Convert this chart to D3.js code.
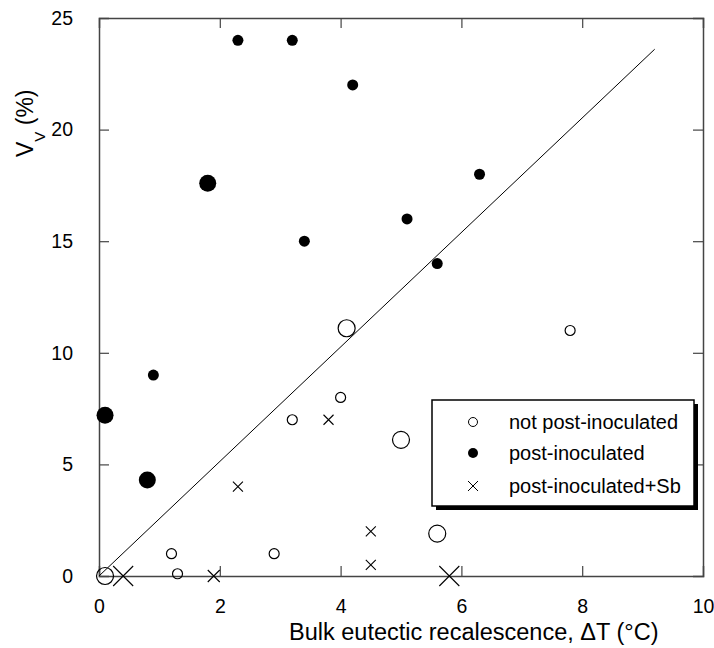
<!DOCTYPE html>
<html>
<head>
<meta charset="utf-8">
<script src="https://cdn.jsdelivr.net/npm/d3@7"></script>
<style>
  html, body { margin: 0; padding: 0; background: #fff; }
  svg { display: block; font-family: "Liberation Sans", Arial, sans-serif; }
</style>
</head>
<body>
<svg id="chart" width="714" height="648"></svg>
<script>
// ---- data ----
const notPostX = [0.1, 1.2, 1.3, 2.9, 3.2, 4.0, 4.1, 5.0, 5.6, 7.8];
const notPostY = [0, 1, 0.1, 1, 7, 8, 11.1, 6.1, 1.9, 11];
const notPostSize = [2, 1, 1, 1, 1, 1, 2, 2, 2, 1];

const postX = [0.1, 0.8, 0.9, 1.8, 2.3, 3.2, 3.4, 4.2, 5.1, 5.6, 6.3];
const postY = [7.2, 4.3, 9, 17.6, 24, 24, 15, 22, 16, 14, 18];
const postSize = [2, 2, 1, 2, 1, 1, 1, 1, 1, 1, 1];

const sbX = [0.4, 1.9, 2.3, 3.8, 4.5, 4.5, 5.8];
const sbY = [0, 0, 4, 7, 2, 0.5, 0];
const sbSize = [2, 1.2, 1, 1, 1, 1, 2];

const fitX = [0, 9.2];
const fitY = [0, 23.6];

const xTicks = [0, 2, 4, 6, 8, 10];
const yTicks = [0, 5, 10, 15, 20, 25];

const legendLabels = ["not post-inoculated", "post-inoculated", "post-inoculated+Sb"];

// ---- layout ----
const svg = d3.select("#chart");
const pLeft = 99, pRight = 703, pTop = 18, pBottom = 576;
const x = d3.scaleLinear().domain([0, 10]).range([pLeft, pRight]);
const y = d3.scaleLinear().domain([0, 25]).range([pBottom, pTop]);
const axisColor = "#444";
const tickLen = 10;

// axes
const gB = svg.append("g").attr("transform", `translate(0,${pBottom})`)
  .call(d3.axisBottom(x).tickValues(xTicks).tickSize(-tickLen).tickPadding(tickLen + 13).tickFormat(d3.format("d")));
const gT = svg.append("g").attr("transform", `translate(0,${pTop})`)
  .call(d3.axisTop(x).tickValues(xTicks).tickSize(-tickLen).tickFormat(""));
const gL = svg.append("g").attr("transform", `translate(${pLeft},0)`)
  .call(d3.axisLeft(y).tickValues(yTicks).tickSize(-tickLen).tickPadding(tickLen + 16).tickFormat(d3.format("d")));
const gR = svg.append("g").attr("transform", `translate(${pRight},0)`)
  .call(d3.axisRight(y).tickValues(yTicks).tickSize(-tickLen).tickFormat(""));

[gB, gT, gL, gR].forEach(g => {
  g.select(".domain").attr("stroke", axisColor).attr("stroke-width", 1.5);
  g.selectAll(".tick line").attr("stroke", axisColor).attr("stroke-width", 1.2);
  g.selectAll(".tick text").attr("fill", "#000").style("font-size", "19.5px")
    .style("font-family", "'Liberation Sans', Arial, sans-serif");
});
// remove ticks at the frame corners
gB.selectAll(".tick").filter(d => d === 0 || d === 10).select("line").remove();
gT.selectAll(".tick").filter(d => d === 0 || d === 10).remove();
gL.selectAll(".tick").filter(d => d === 0 || d === 25).select("line").remove();
gR.selectAll(".tick").filter(d => d === 0 || d === 25).remove();

// axis titles
svg.append("text")
  .attr("x", 289).attr("y", 640)
  .attr("text-anchor", "start")
  .style("font-size", "23.5px")
  .text("Bulk eutectic recalescence, \u0394T (\u00B0C)");

const yl = svg.append("text")
  .attr("transform", "translate(33,157) rotate(-90)")
  .attr("text-anchor", "start")
  .style("font-size", "23px");
yl.append("tspan").text("V");
yl.append("tspan").attr("dy", 12).style("font-size", "15px").text("V");
yl.append("tspan").attr("dy", -12).text(" (%)");

// fit line
const line = d3.line().x(d => x(d[0])).y(d => y(d[1]));
svg.append("path")
  .datum(d3.zip(fitX, fitY))
  .attr("d", line)
  .attr("fill", "none").attr("stroke", "#000").attr("stroke-width", 1);

// markers
const rOpen = s => s === 2 ? 8.5 : 5;
const rFill = s => s === 2 ? 8.5 : 5.5;
const hCross = s => s * 5;

svg.append("g").selectAll("circle")
  .data(d3.zip(notPostX, notPostY, notPostSize))
  .join("circle")
  .attr("cx", d => x(d[0])).attr("cy", d => y(d[1])).attr("r", d => rOpen(d[2]))
  .attr("fill", "none").attr("stroke", "#000").attr("stroke-width", 1.2);

svg.append("g").selectAll("circle")
  .data(d3.zip(postX, postY, postSize))
  .join("circle")
  .attr("cx", d => x(d[0])).attr("cy", d => y(d[1])).attr("r", d => rFill(d[2]))
  .attr("fill", "#000");

svg.append("g").selectAll("path")
  .data(d3.zip(sbX, sbY, sbSize))
  .join("path")
  .attr("d", d => {
    const cx = x(d[0]), cy = y(d[1]), h = hCross(d[2]);
    return `M${cx - h},${cy - h}L${cx + h},${cy + h}M${cx - h},${cy + h}L${cx + h},${cy - h}`;
  })
  .attr("stroke", "#000").attr("stroke-width", 1.1).attr("fill", "none");

// legend
const lg = svg.append("g");
const lx = 432, ly = 400, lw = 262, lh = 106;
lg.append("rect").attr("x", lx + 4).attr("y", ly + 4).attr("width", lw).attr("height", lh).attr("fill", "#000");
lg.append("rect").attr("x", lx).attr("y", ly).attr("width", lw).attr("height", lh)
  .attr("fill", "#fff").attr("stroke", "#000").attr("stroke-width", 1.5);
const rowY = [422, 453, 486];
const mx = 473;
lg.append("circle").attr("cx", mx).attr("cy", rowY[0]).attr("r", 4.5)
  .attr("fill", "none").attr("stroke", "#000").attr("stroke-width", 1);
lg.append("circle").attr("cx", mx).attr("cy", rowY[1]).attr("r", 5).attr("fill", "#000");
lg.append("path").attr("d", `M${mx - 5},${rowY[2] - 5}L${mx + 5},${rowY[2] + 5}M${mx - 5},${rowY[2] + 5}L${mx + 5},${rowY[2] - 5}`)
  .attr("stroke", "#000").attr("stroke-width", 1);
lg.selectAll("text.lab").data(legendLabels).join("text")
  .attr("class", "lab")
  .attr("x", 509).attr("y", (d, i) => rowY[i] + 7)
  .style("font-size", "20px")
  .text(d => d);
</script>
</body>
</html>
